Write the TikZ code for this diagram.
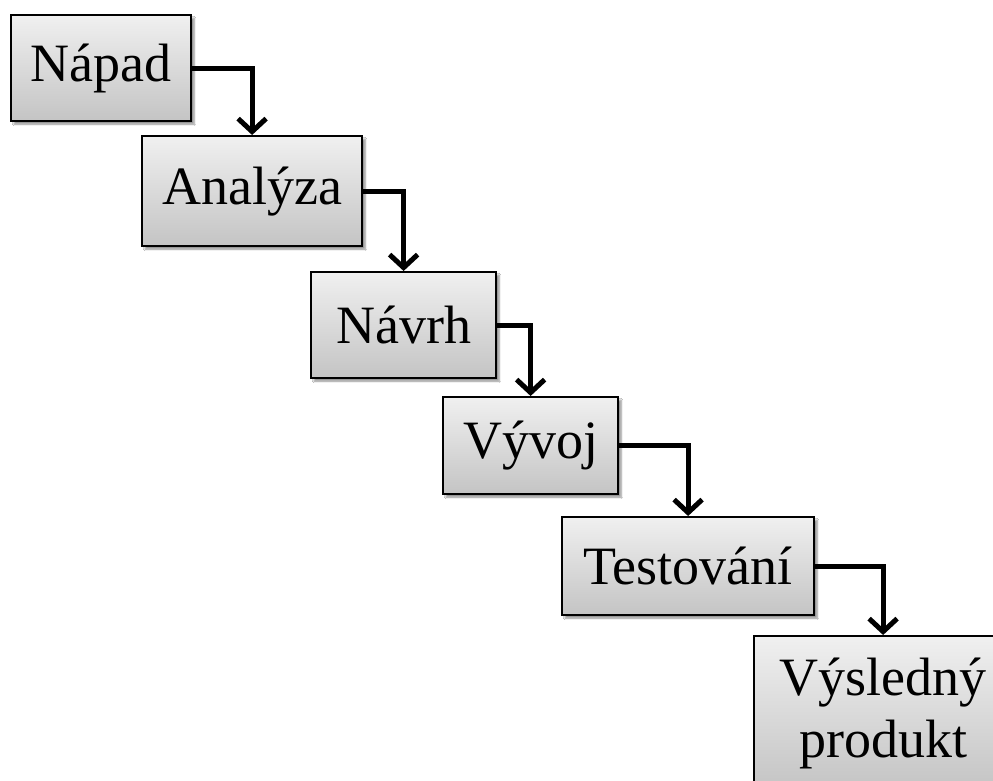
\documentclass[tikz,border=0pt]{standalone}
\usepackage{fontspec}
\setmainfont{Liberation Serif}
\usetikzlibrary{arrows.meta,shadows.blur}
\definecolor{boxtop}{RGB}{240,240,240}
\definecolor{boxbot}{RGB}{196,196,196}
\tikzset{
  stagebox/.style={draw=black, line width=2.2pt, anchor=north west,
    top color=boxtop, bottom color=boxbot, inner sep=0pt, align=center,
    font=\fontsize{54}{62}\selectfont,
    blur shadow={shadow xshift=3pt, shadow yshift=-3pt, shadow blur steps=6, shadow opacity=45}},
  flow/.style={line width=5pt, -{Straight Barb[length=13pt,width=28pt]}}
}
\begin{document}
\begin{tikzpicture}[x=1pt,y=-1pt]
\fill[white] (0,0) rectangle (993,781);
\clip (0,0) rectangle (993,781);
\node[stagebox, minimum width=180pt, minimum height=106pt] (nap) at (10,14) {Nápad};
\node[stagebox, minimum width=220pt, minimum height=110pt] (ana) at (141,135) {Analýza};
\node[stagebox, minimum width=185pt, minimum height=106pt] (nav) at (310,271) {Návrh};
\node[stagebox, minimum width=175pt, minimum height=97pt] (vyv) at (442,396) {Vývoj};
\node[stagebox, minimum width=252pt, minimum height=98pt] (tes) at (561,516) {Testování};
\node[stagebox, minimum width=258pt, minimum height=154pt] (vys) at (753,635) {Výsledný\\produkt};
\draw[flow] (nap.east) -| (ana.north);
\draw[flow] (ana.east) -| (nav.north);
\draw[flow] (nav.east) -| (vyv.north);
\draw[flow] (vyv.east) -| (tes.north);
\draw[flow] (tes.east) -| (vys.north);
\end{tikzpicture}
\end{document}
